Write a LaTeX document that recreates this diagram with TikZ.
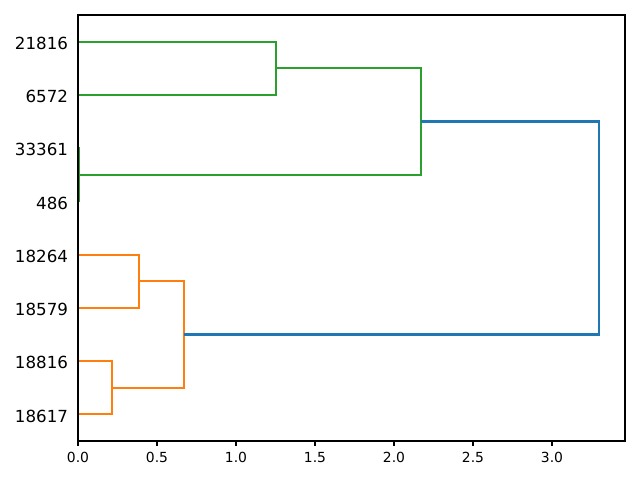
\documentclass[tikz,border=0pt]{standalone}
\usepackage{fontspec}
\setmainfont{DejaVu Sans}
\definecolor{mplblue}{HTML}{1F77B4}
\definecolor{mplorange}{HTML}{FF7F0E}
\definecolor{mplgreen}{HTML}{2CA02C}
\tikzset{
  link/.style={line width=1.5pt},
  leaflabel/.style={anchor=east, inner sep=0pt, xshift=-7pt, yshift=-1.2pt, font=\fontsize{12}{14}\selectfont},
  ticklabel/.style={anchor=north, inner sep=0pt, yshift=-4.5pt, font=\fontsize{10}{12}\selectfont}
}
\begin{document}
\begin{tikzpicture}[x=113.76pt, y=3.834pt]
    \useasboundingbox (-0.4937,-7.324) rectangle (3.557,82.817);
    % leaves, top to bottom
    \coordinate (l21816) at (0,75);
    \coordinate (l6572)  at (0,65);
    \coordinate (l33361) at (0,55);
    \coordinate (l486)   at (0,45);
    \coordinate (l18264) at (0,35);
    \coordinate (l18579) at (0,25);
    \coordinate (l18816) at (0,15);
    \coordinate (l18617) at (0,5);
    % merge points
    \coordinate (ma) at (1.253,70);
    \coordinate (mb) at (0.006,50);
    \coordinate (mc) at (2.171,60);
    \coordinate (md) at (0.386,30);
    \coordinate (me) at (0.215,10);
    \coordinate (mf) at (0.671,20);
    \coordinate (mg) at (3.297,40);
    % clusters
    \draw[link, mplgreen] (l21816) -| (ma) |- (l6572);
    \draw[link, mplgreen] (l33361) -| (mb) |- (l486);
    \draw[link, mplgreen] (ma) -| (mc) |- (mb);
    \draw[link, mplorange] (l18264) -| (md) |- (l18579);
    \draw[link, mplorange] (l18816) -| (me) |- (l18617);
    \draw[link, mplorange] (md) -| (mf) |- (me);
    \draw[link, mplblue] (mc) -| (mg) |- (mf);
    % axes
    \draw[line width=0.8pt] (0,0) rectangle (3.462,80);
    \foreach \x in {0.0,0.5,1.0,1.5,2.0,2.5,3.0}
    \draw[line width=0.8pt, shift={(\x,0)}] (0pt,0pt) -- (0pt,-3.5pt) node[ticklabel] {\x};
    \foreach \n/\y in {21816/75, 6572/65, 33361/55, 486/45, 18264/35, 18579/25, 18816/15, 18617/5}
    \node[leaflabel] (t\n) at (0,\y) {\n};
\end{tikzpicture}
\end{document}
